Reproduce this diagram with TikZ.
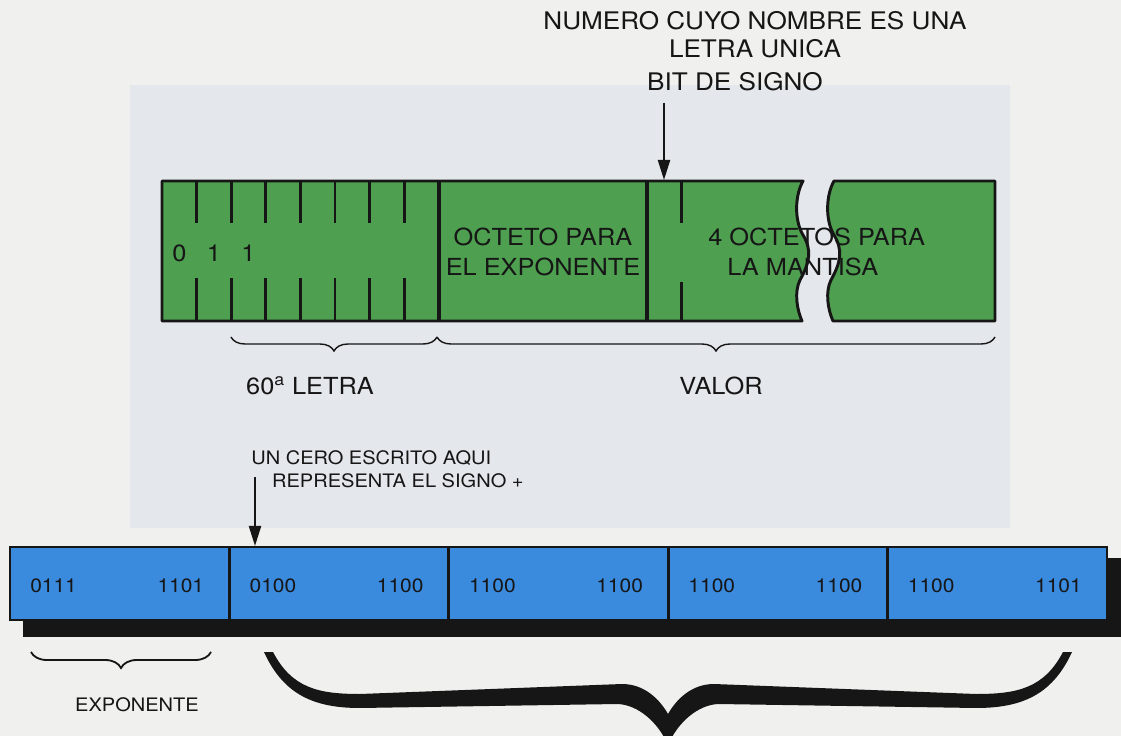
\documentclass[tikz,border=0pt]{standalone}
\usepackage{fontspec}
\setmainfont{TeX Gyre Heros}[FakeStretch=1.08]
\usepackage{xcolor}
\usepackage{tikz}
\usetikzlibrary{arrows.meta, positioning, calc, decorations.pathreplacing}
\definecolor{paper}{RGB}{240, 240, 239}
\definecolor{panelgray}{RGB}{228, 231, 235}
\definecolor{octgreen}{RGB}{78, 160, 80}
\definecolor{regblue}{RGB}{58, 138, 222}
\definecolor{inkblack}{RGB}{22, 22, 22}
\tikzset{
    octbox/.style={fill=octgreen, draw=inkblack, line width=2.1pt,
                   line join=round},
    regbox/.style={fill=regblue, draw=inkblack, line width=2.1pt},
    divider/.style={draw=inkblack, line width=2.4pt},
    bittick/.style={draw=inkblack, line width=2.1pt},
    sigarrow/.style={draw=inkblack, line width=1.5pt,
                     -{Triangle[length=5mm, width=3mm]}},
    thinbrace/.style={draw=inkblack, line width=1pt, decorate,
                      decoration={brace, amplitude=0.35cm}},
    expbrace/.style={draw=inkblack, line width=1.3pt, decorate,
                     decoration={brace, amplitude=0.4cm}},
    titletxt/.style={font=\fontsize{17.2}{19.9}\selectfont, inner sep=0pt,
                     text=inkblack},
    bigtxt/.style={font=\fontsize{16.7}{21.3}\selectfont, inner sep=0pt,
                   text=inkblack},
    smalltxt/.style={font=\fontsize{13.2}{16.4}\selectfont, inner sep=0pt,
                     text=inkblack},
    digtxt/.style={font=\fontsize{13.8}{16}\selectfont, inner sep=0pt,
                   text=inkblack},
}

\begin{document}
\begin{tikzpicture}[x=0.025cm, y=-0.025cm]
    % Background
    \fill[paper] (0,0) rectangle (1121,736);
    \fill[panelgray] (130,85) rectangle (1010,528);
    \useasboundingbox (0,0) rectangle (1121,736);

    % Labels on top
    \node[titletxt, align=center] (numname) at (755,35)
        {NUMERO CUYO NOMBRE ES UNA\\LETRA UNICA};
    \node[titletxt] (bitsign) at (735,82) {BIT DE SIGNO};

    % Green register, left piece
    \draw[octbox] (162,181) -- (803,181)
        .. controls (795,195) and (794,220) .. (803,235)
        .. controls (812,250) and (810,262) .. (800,280)
        .. controls (794,292) and (797,310) .. (802,321)
        -- (162,321) -- cycle;
    % Green register, right piece
    \draw[octbox] (833,321)
        .. controls (828,310) and (825,292) .. (831,280)
        .. controls (841,262) and (843,250) .. (834,235)
        .. controls (825,220) and (826,195) .. (834,181)
        -- (995,181) -- (995,321) -- cycle;

    % Octet dividers
    \draw[divider] (439,181) -- (439,321);
    \draw[divider] (647,181) -- (647,321);

    % Bit ticks
    \foreach \k in {1,...,7}
        \draw[bittick] ({162+34.6*\k},181) -- ++(0,42)
                       ({162+34.6*\k},321) -- ++(0,-43);
    \draw[bittick] (681.6,181) -- ++(0,42) (681.6,321) -- ++(0,-39);

    % Bits of the letter
    \foreach \b [count=\i] in {0,1,1}
        \node[bigtxt] (bit\i) at ({162+34.6*\i-17.3},253) {\b};

    \node[bigtxt, align=center] (expoct) at (543,252)
        {OCTETO PARA\\EL EXPONENTE};
    \node[bigtxt, align=left, anchor=west] (mantoct) at (708,252)
        {4 OCTETOS PARA\\\hspace*{0.48cm}LA MANTISA};

    % Sign bit arrow
    \coordinate (bitarrow) at (664,103);
    \coordinate (signbit) at (664,180);
    \draw[sigarrow] (bitarrow) -- (signbit);

    % Braces under green register
    \coordinate (letL) at (231,337);
    \coordinate (letR) at (437,337);
    \coordinate (valR) at (995,337);
    \draw[thinbrace] (letR) -- (letL);
    \draw[thinbrace] (valR) -- (letR);
    \node[bigtxt] (letra) at (310,386) {60\textsuperscript{a} LETRA};
    \node[bigtxt] (valor) at (721,386) {VALOR};

    % Blue register with its shadow
    \fill[inkblack] (23,558) rectangle (1121,637);
    \draw[regbox] (10,547) rectangle (1107,620);
    \foreach \k in {1,...,4}
        \draw[divider] ({10+219.4*\k},547) -- ({10+219.4*\k},620);
    \foreach \lft/\rgt [count=\i from 0] in
        {0111/1101, 0100/1100, 1100/1100, 1100/1100, 1100/1101} {
        \node[digtxt, anchor=west] (lo\i) at ({10+219.4*\i+20},586) {\lft};
        \node[digtxt, anchor=east] (hi\i) at ({10+219.4*(\i+1)-25},586) {\rgt};
    }

    % Zero sign note
    \node[smalltxt, align=left, anchor=west] (zerosign) at (251,469)
        {UN CERO ESCRITO AQUI\\\hspace*{0.52cm}REPRESENTA EL SIGNO +};
    \coordinate (zeroarrow) at (255,477);
    \coordinate (zerobit) at (255,546);
    \draw[sigarrow] (zeroarrow) -- (zerobit);

    % Braces under blue register
    \coordinate (expL) at (31,652);
    \coordinate (expR) at (211,652);
    \draw[expbrace] (expR) -- (expL);
    \node[smalltxt] (exponente) at (137,705) {EXPONENTE};

    % Big brace
    \fill[inkblack] (264,652) -- (273,652)
        .. controls (292,688) and (318,694) .. (360,694)
        -- (622,684)
        .. controls (645,684) and (660,700) .. (668,714)
        .. controls (676,700) and (691,684) .. (714,684)
        -- (976,694)
        .. controls (1018,694) and (1044,688) .. (1063,652)
        -- (1072,652)
        .. controls (1052,696) and (1020,708) .. (976,708)
        -- (718,704)
        .. controls (698,705) and (678,722) .. (668,745)
        .. controls (658,722) and (638,705) .. (618,704)
        -- (360,708)
        .. controls (316,708) and (284,696) .. (264,652) -- cycle;
\end{tikzpicture}
\end{document}
